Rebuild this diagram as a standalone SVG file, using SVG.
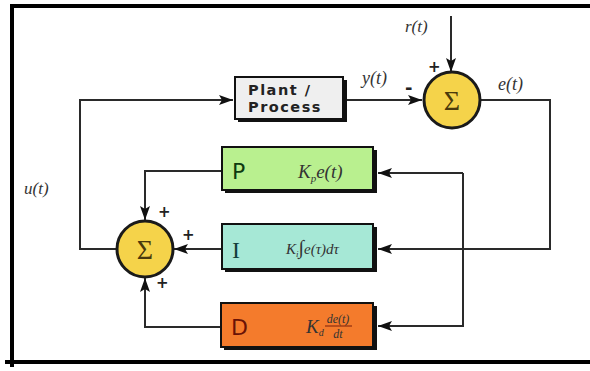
<svg xmlns="http://www.w3.org/2000/svg" width="590" height="371" viewBox="0 0 590 371">
<style>
.ln{fill:none;stroke:#2a2a2a;stroke-width:2}
.box{stroke:#111;stroke-width:2}
.sh{fill:#111}
.m{font-family:"Liberation Serif",serif;font-style:italic;fill:#333}
.pl{font-family:"DejaVu Sans",sans-serif;font-size:14.5px;font-weight:bold;fill:#222;letter-spacing:1.5px}
.sum{fill:#f5d34a;stroke:#1a1a1a;stroke-width:3}
.sig{font-family:"Liberation Serif",serif;font-size:28px;fill:#4a3a0c;text-anchor:middle}
.frame{stroke:#000;stroke-width:4}
</style>
<defs>
<marker id="ah" viewBox="0 0 14 10" refX="14" refY="5" markerWidth="14" markerHeight="10" markerUnits="userSpaceOnUse" orient="auto">
<path d="M0,0 L14,5 L0,10 L3,5 z" fill="#111"/>
</marker>
</defs>
<rect width="590" height="371" fill="#fff"/>
<g id="frame">
<line class="frame" x1="12" y1="4" x2="12" y2="367"/>
<line class="frame" x1="10" y1="6" x2="590" y2="6" stroke-width="3.5"/>
<line class="frame" x1="5" y1="362" x2="590" y2="362"/>
</g>
<g id="connectors">
<path class="ln" d="M451,16 V72" marker-end="url(#ah)"/>
<path class="ln" d="M345,100 H422" marker-end="url(#ah)"/>
<path class="ln" d="M481,100 H550 V249 H378" marker-end="url(#ah)"/>
<path class="ln" d="M463,173 H378" marker-end="url(#ah)"/>
<path class="ln" d="M463,173 V326 H378" marker-end="url(#ah)"/>
<path class="ln" d="M221,171 H145 V220" marker-end="url(#ah)"/>
<path class="ln" d="M221,249 H174" marker-end="url(#ah)"/>
<path class="ln" d="M220,327 H145 V278" marker-end="url(#ah)"/>
<path class="ln" d="M117,249 H80 V100 H233" marker-end="url(#ah)"/>
</g>
<g id="plant">
<rect class="sh" x="238" y="80" width="109" height="42"/>
<rect class="box" x="235" y="77" width="108" height="42" fill="#efefef"/>
<text class="pl" x="248" y="95">Plant /</text>
<text class="pl" x="248" y="112">Process</text>
</g>
<g id="sum1">
<circle class="sum" cx="452" cy="100" r="28"/>
<text class="sig" x="452" y="110">Σ</text>
</g>
<g id="sum2">
<circle class="sum" cx="145" cy="249" r="28"/>
<text class="sig" x="145" y="259">Σ</text>
</g>
<g id="P">
<rect class="sh" x="225" y="150" width="152" height="43"/>
<rect class="box" x="222" y="147" width="151" height="43" fill="#b9f08f"/>
<text x="232" y="179" font-family="DejaVu Sans,sans-serif" font-size="22" fill="#0e3a10">P</text>
<text class="m" x="298" y="178" font-size="19" fill="#2c4a2a">K<tspan font-size="11" dy="4">p</tspan><tspan dy="-4">e(t)</tspan></text>
</g>
<g id="I">
<rect class="sh" x="225" y="227" width="152" height="45"/>
<rect class="box" x="222" y="224" width="151" height="45" fill="#a6e8d6"/>
<text x="232" y="258" font-family="Liberation Serif,serif" font-size="24" fill="#12403a">I</text>
<text class="m" x="286" y="254" font-size="15" fill="#2c4a48">K<tspan font-size="9" dy="3">i</tspan><tspan dy="-3" font-size="20" font-style="normal">∫</tspan><tspan>e(τ)dτ</tspan></text>
</g>
<g id="D">
<rect class="sh" x="224" y="306" width="153" height="44"/>
<rect class="box" x="221" y="303" width="152" height="44" fill="#f47b2c"/>
<text x="231" y="335" font-family="DejaVu Sans,sans-serif" font-size="22" fill="#6a1206">D</text>
<text class="m" x="306" y="333" font-size="19" fill="#7a1e08">K<tspan font-size="10" dy="3">d</tspan></text>
<text class="m" x="338" y="323" font-size="12" fill="#7a1e08" text-anchor="middle">de(t)</text>
<line x1="325" y1="326" x2="352" y2="326" stroke="#7a1e08" stroke-width="1"/>
<text class="m" x="338" y="338" font-size="12" fill="#7a1e08" text-anchor="middle">dt</text>
</g>
<g id="labels" class="m">
<text x="405" y="32" font-size="17">r(t)</text>
<text x="362" y="84" font-size="18">y(t)</text>
<text x="498" y="90" font-size="18">e(t)</text>
<text x="24" y="194" font-size="17">u(t)</text>
</g>
<g id="signs" font-family="DejaVu Sans,sans-serif" font-weight="bold" fill="#222">
<text x="428" y="72" font-size="15">+</text>
<text x="405" y="94" font-size="18">-</text>
<text x="158" y="217" font-size="15">+</text>
<text x="182" y="240" font-size="15">+</text>
<text x="156" y="288" font-size="15">+</text>
</g>
</svg>
